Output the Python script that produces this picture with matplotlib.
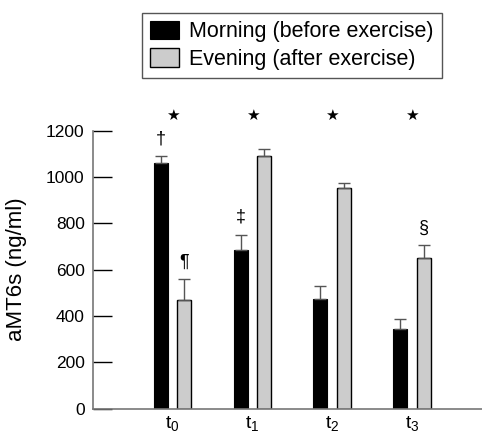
import numpy as np
import matplotlib
matplotlib.use('Agg')
import matplotlib.pyplot as plt

plt.rcParams['font.family'] = ['Liberation Sans', 'DejaVu Sans']

# Data
times = [r'$\mathregular{t_0}$', r'$\mathregular{t_1}$', r'$\mathregular{t_2}$', r'$\mathregular{t_3}$']
morning = [1058, 685, 474, 343]
morning_err = [32, 65, 56, 44]
evening = [471, 1089, 951, 651]
evening_err = [89, 33, 23, 55]
star_level = 1266
# marks above single bars: (group, series, symbol, height)
marks = [(0, 0, '†', 1165), (0, 1, '¶', 630), (1, 0, '‡', 828), (3, 1, '§', 778)]

fig = plt.figure(figsize=(4.82, 4.37), dpi=100)
ax = fig.add_axes([0.193, 0.0648, 0.807, 0.6364])

x = np.arange(1, len(times) + 1)
width = 0.175
off = 0.147

ax.bar(x - off, morning, width, color='black', edgecolor='black', linewidth=0.8,
       yerr=[np.zeros(4), morning_err], error_kw=dict(ecolor='#555555', elinewidth=1, capsize=4, capthick=1),
       label='Morning (before exercise)', zorder=2)
ax.bar(x + off, evening, width, color='#cccccc', edgecolor='black', linewidth=1,
       yerr=[np.zeros(4), evening_err], error_kw=dict(ecolor='#555555', elinewidth=1, capsize=4, capthick=1),
       label='Evening (after exercise)', zorder=2)

# significance marks
for xi in x:
    ax.text(xi, star_level, '★', ha='center', va='center', fontsize=11,
            family=['DejaVu Sans'], clip_on=False)
for g, s, sym, h in marks:
    xp = x[g] - off if s == 0 else x[g] + off
    ax.text(xp, h, sym, ha='center', va='center', fontsize=13, clip_on=False)

ax.set_xlim(0, 4.88)
ax.set_ylim(0, 1200)
ax.set_xticks(x)
ax.set_xticklabels(times, fontsize=14)
ax.set_yticks(range(0, 1201, 200))
ax.tick_params(axis='y', direction='in', length=14, width=1, labelsize=12.5, pad=6)
ax.tick_params(axis='x', length=0, pad=4)

ax.spines['top'].set_visible(False)
ax.spines['right'].set_visible(False)
ax.spines['left'].set_color('#777777')
ax.spines['bottom'].set_color('#777777')
ax.spines['left'].set_linewidth(1.2)
ax.spines['bottom'].set_linewidth(1.2)

ax.set_ylabel('aMT6s (ng/ml)', fontsize=16)
ax.yaxis.set_label_coords(-0.17, 0.5)

leg = fig.legend(loc='upper left', bbox_to_anchor=(0.2946, 0.971), borderaxespad=0,
                 fontsize=15.5, handlelength=1.35, handleheight=0.93, handletextpad=0.45,
                 borderpad=0.38, labelspacing=0.28, fancybox=False, framealpha=1)
leg.get_frame().set_edgecolor('#555555')
leg.get_frame().set_linewidth(1)

fig.savefig('out.png', dpi=100)
